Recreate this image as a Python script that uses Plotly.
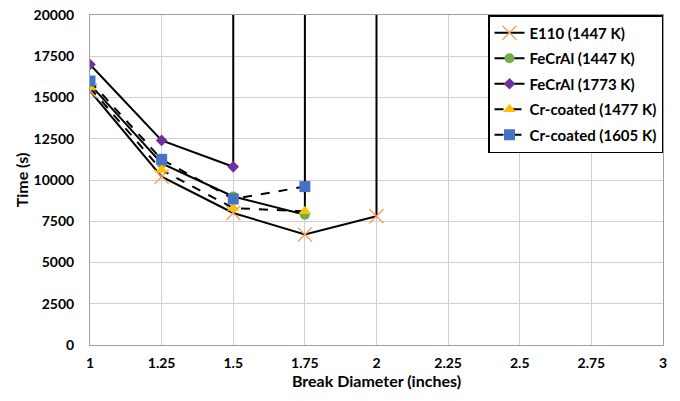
import plotly.graph_objects as go

# Data
x_e110 = [1, 1.25, 1.5, 1.75, 2, 2]
y_e110 = [15400, 10200, 8000, 6700, 7800, 30000]

x_fecral1447 = [1, 1.25, 1.5, 1.75, 1.75]
y_fecral1447 = [15800, 11000, 9000, 7900, 30000]

x_fecral1773 = [1, 1.25, 1.5, 1.5]
y_fecral1773 = [17000, 12400, 10800, 30000]

x_cr1477 = [1, 1.25, 1.5, 1.75]
y_cr1477 = [15600, 10600, 8300, 8100]

x_cr1605 = [1, 1.25, 1.5, 1.75]
y_cr1605 = [16000, 11250, 8850, 9600]

x_ticks = [1, 1.25, 1.5, 1.75, 2, 2.25, 2.5, 2.75, 3]
y_ticks = [0, 2500, 5000, 7500, 10000, 12500, 15000, 17500, 20000]

FONT = "Lato"

fig = go.Figure()

fig.add_trace(go.Scatter(
    x=x_e110, y=y_e110, mode="lines+markers", name="E110 (1447 K)", legendgroup="a",
    line=dict(color="black", width=2),
    marker=dict(symbol="x-thin", size=14, line=dict(color="#f4a460", width=1.5), color="#f4a460"),
))
fig.add_trace(go.Scatter(
    x=x_fecral1447, y=y_fecral1447, mode="lines+markers", name="FeCrAl (1447 K)", legendgroup="b",
    line=dict(color="black", width=2),
    marker=dict(symbol="circle", size=10, color="#70ad47"),
))
fig.add_trace(go.Scatter(
    x=x_fecral1773, y=y_fecral1773, mode="lines+markers", name="FeCrAl (1773 K)", legendgroup="c",
    line=dict(color="black", width=2),
    marker=dict(symbol="diamond", size=9, color="#7030a0"),
))
fig.add_trace(go.Scatter(
    x=x_cr1477, y=y_cr1477, mode="lines+markers", name="Cr-coated (1477 K)", legendgroup="d",
    line=dict(color="black", width=2, dash="dash"),
    marker=dict(symbol="triangle-up", size=11, color="#ffc000"),
))
fig.add_trace(go.Scatter(
    x=x_cr1605, y=y_cr1605, mode="lines+markers", name="Cr-coated (1605 K)", legendgroup="e",
    line=dict(color="black", width=2, dash="dash"),
    marker=dict(symbol="square", size=11, color="#4472c4"),
))

fig.update_layout(
    width=680, height=401,
    margin=dict(l=90, r=17, t=15, b=56),
    plot_bgcolor="white", paper_bgcolor="white",
    font=dict(family=FONT, size=14, color="black"),
    showlegend=True,
    legend=dict(
        x=1, xanchor="right", y=1, yanchor="top",
        bgcolor="white", bordercolor="black", borderwidth=1.5,
        font=dict(family=FONT, size=15, color="black", weight="bold"),
        tracegroupgap=3, itemwidth=30,
    ),
    xaxis=dict(
        range=[1, 3], tickvals=x_ticks, ticktext=[f"{t:g}" for t in x_ticks],
        showgrid=True, gridcolor="#d0d0d0", gridwidth=1,
        showline=True, linecolor="#a0a0a0", linewidth=1, mirror=True,
        zeroline=False, ticks="", ticklen=0, ticklabelstandoff=5,
        automargin=False,
        tickfont=dict(family=FONT, size=14, color="black", weight="bold"),
        title=dict(text="Break Diameter (inches)", standoff=6,
                   font=dict(family=FONT, size=16, color="black", weight="bold")),
    ),
    yaxis=dict(
        range=[0, 20000], tickvals=y_ticks, ticktext=[str(t) for t in y_ticks],
        showgrid=True, gridcolor="#d0d0d0", gridwidth=1,
        showline=True, linecolor="#a0a0a0", linewidth=1, mirror=True,
        zeroline=False, ticks="", ticklen=0, ticklabelstandoff=12,
        automargin=False,
        tickfont=dict(family=FONT, size=14, color="black", weight="bold"),
        title=dict(text="Time (s)", standoff=0,
                   font=dict(family=FONT, size=16, color="black", weight="bold")),
    ),
)

fig.write_html("out.html")
